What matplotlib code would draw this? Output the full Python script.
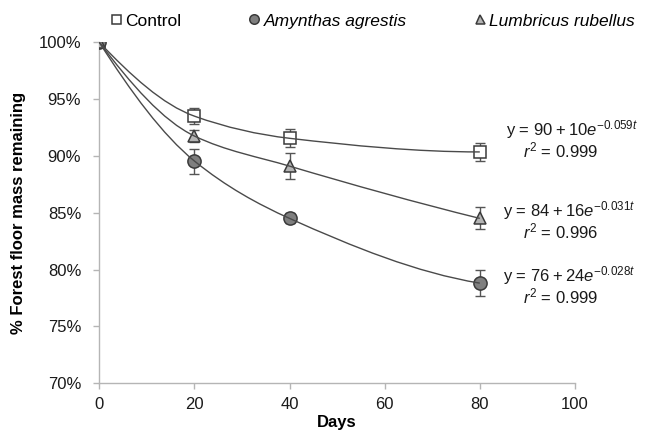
import matplotlib.pyplot as plt
import numpy as np
from matplotlib.path import Path
from matplotlib.patches import PathPatch

plt.rcParams['font.family'] = ['Liberation Sans', 'DejaVu Sans']
plt.rcParams['mathtext.fontset'] = 'custom'
plt.rcParams['mathtext.rm'] = 'Liberation Sans'
plt.rcParams['mathtext.it'] = 'Liberation Sans:italic'
plt.rcParams['mathtext.sf'] = 'Liberation Sans'

# data (percent remaining)
days = [0, 20, 40, 80]
control = [100, 93.5, 91.55, 90.35]
control_err = [0, 0.69, 0.79, 0.79]
amynthas = [100, 89.55, 84.5, 78.8]
amynthas_err = [0, 1.1, 0.44, 1.17]
lumbricus = [100, 91.75, 89.1, 84.5]
lumbricus_err = [0, 0.5, 1.13, 0.97]

eq_control = ('y = 90\u2009+\u200910$\\mathit{e}^{\\mathrm{-0.059}\\mathit{t}}$', '$\\mathit{r}^{\\mathrm{2}}$ = 0.999')
eq_lumbricus = ('y = 84\u2009+\u200916$\\mathit{e}^{\\mathrm{-0.031}\\mathit{t}}$', '$\\mathit{r}^{\\mathrm{2}}$ = 0.996')
eq_amynthas = ('y = 76\u2009+\u200924$\\mathit{e}^{\\mathrm{-0.028}\\mathit{t}}$', '$\\mathit{r}^{\\mathrm{2}}$ = 0.999')


def smooth_path(x, y):
    # shape preserving cubic (pchip slopes) as bezier segments, drawn by matplotlib
    x = np.asarray(x, float)
    y = np.asarray(y, float)
    h = np.diff(x)
    d = np.diff(y) / h
    n = len(x)
    m = np.zeros(n)
    for i in range(1, n - 1):
        if d[i - 1] * d[i] > 0:
            w1 = 2 * h[i] + h[i - 1]
            w2 = h[i] + 2 * h[i - 1]
            m[i] = (w1 + w2) / (w1 / d[i - 1] + w2 / d[i])
    m0 = ((2 * h[0] + h[1]) * d[0] - h[0] * d[1]) / (h[0] + h[1])
    if m0 * d[0] <= 0:
        m0 = 0
    elif abs(m0) > 3 * abs(d[0]):
        m0 = 3 * d[0]
    m[0] = m0
    mn = ((2 * h[-1] + h[-2]) * d[-1] - h[-1] * d[-2]) / (h[-1] + h[-2])
    if mn * d[-1] <= 0:
        mn = 0
    m[-1] = mn
    verts = [(x[0], y[0])]
    codes = [Path.MOVETO]
    for i in range(n - 1):
        verts += [(x[i] + h[i] / 3, y[i] + m[i] * h[i] / 3),
                  (x[i + 1] - h[i] / 3, y[i + 1] - m[i + 1] * h[i] / 3),
                  (x[i + 1], y[i + 1])]
        codes += [Path.CURVE4] * 3
    return Path(verts, codes)


fig = plt.figure(figsize=(6.46, 4.37), dpi=100)
ax = fig.add_axes([0.1537, 0.1233, 0.7363, 0.7799])

edge = '#3a3a3a'
series = [
    (control, control_err, 's', 'white', 'Control', 'normal'),
    (amynthas, amynthas_err, 'o', '#7f7f7f', 'Amynthas agrestis', 'italic'),
    (lumbricus, lumbricus_err, '^', '#b4b4b4', 'Lumbricus rubellus', 'italic'),
]

handles = []
for vals, err, mk, fc, name, style in series:
    ax.errorbar(days, vals, yerr=err, fmt='none', ecolor='#555555', elinewidth=1,
                capsize=3.5, capthick=1, zorder=2)
    h, = ax.plot(days, vals, linestyle='none', marker=mk, ms=9 if mk != 'o' else 9.5,
                 mfc=fc, mec=edge, mew=1.1, zorder=3)
    ax.add_patch(PathPatch(smooth_path(days, vals), fill=False, edgecolor='#4a4a4a',
                           lw=1, zorder=4))
    handles.append(h)

ax.set_xlim(0, 100)
ax.set_ylim(70, 100)
ax.set_xticks([0, 20, 40, 60, 80, 100])
ax.set_yticks(np.arange(70, 101, 5))
ax.set_yticklabels([f'{v}%' for v in range(70, 101, 5)])
for s in ['top', 'right']:
    ax.spines[s].set_visible(False)
for s in ['left', 'bottom']:
    ax.spines[s].set_color('#b5b5b5')
    ax.spines[s].set_linewidth(1)
ax.tick_params(axis='both', colors='#b5b5b5', labelcolor='#1a1a1a', labelsize=12,
               length=4, width=1, direction='out')
ax.tick_params(axis='x', pad=6)
ax.tick_params(axis='y', pad=9)
ax.set_xlabel('Days', fontsize=12, fontweight='bold', labelpad=2)
ax.set_ylabel('% Forest floor mass remaining', fontsize=12, fontweight='bold', labelpad=9)

# equations (baselines)
eq_rows = [(eq_control, 85.6, 91.8, 89.85), (eq_lumbricus, 84.9, 84.65, 82.75),
           (eq_amynthas, 84.9, 78.95, 77.05)]
for (l1, l2), x1, y1, y2 in eq_rows:
    ax.text(x1, y1, l1, fontsize=12, ha='left', va='baseline', color='#1a1a1a')
    ax.text(89.0, y2, l2, fontsize=12, ha='left', va='baseline', color='#1a1a1a')

leg = fig.legend(handles, [s[4] for s in series], loc='center left',
                 bbox_to_anchor=(0.171, 0.952), ncol=3, frameon=False, fontsize=12.5,
                 handletextpad=0.25, columnspacing=3.9, handlelength=0.6, markerscale=0.72,
                 borderaxespad=0, borderpad=0)
for txt, s in zip(leg.get_texts(), series):
    txt.set_fontstyle(s[5])

fig.savefig('out.png', dpi=100)
